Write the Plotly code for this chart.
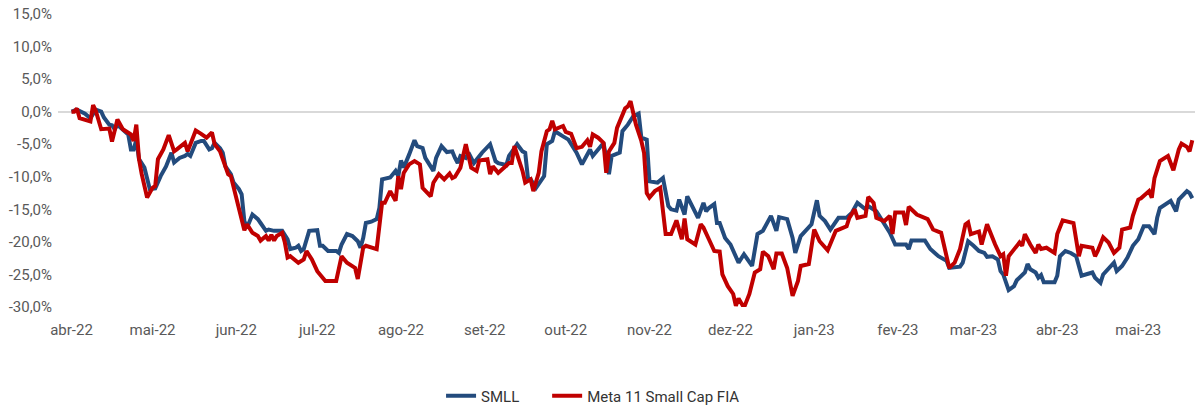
import plotly.graph_objects as go

smll_dates = [
"2022-04-01","2022-04-03","2022-04-06","2022-04-08","2022-04-10","2022-04-12","2022-04-13","2022-04-15","2022-04-16","2022-04-17",
"2022-04-18","2022-04-20","2022-04-22","2022-04-23","2022-04-24","2022-04-25","2022-04-26","2022-04-28","2022-04-29","2022-04-30",
"2022-05-02","2022-05-04","2022-05-06","2022-05-08","2022-05-09","2022-05-11","2022-05-13","2022-05-14","2022-05-15","2022-05-16",
"2022-05-17","2022-05-19","2022-05-20","2022-05-22","2022-05-23","2022-05-24","2022-05-26","2022-05-27","2022-05-28","2022-05-30",
"2022-05-31","2022-06-02","2022-06-03","2022-06-04","2022-06-05","2022-06-07","2022-06-09","2022-06-10","2022-06-12","2022-06-13",
"2022-06-15","2022-06-18","2022-06-20","2022-06-21","2022-06-23","2022-06-24","2022-06-25","2022-06-26","2022-06-28","2022-07-01",
"2022-07-02","2022-07-03","2022-07-05","2022-07-08","2022-07-09","2022-07-10","2022-07-12","2022-07-14","2022-07-16","2022-07-17",
"2022-07-18","2022-07-19","2022-07-21","2022-07-23","2022-07-24","2022-07-25","2022-07-28","2022-07-30","2022-07-31","2022-08-01",
"2022-08-02","2022-08-04","2022-08-06","2022-08-07","2022-08-09","2022-08-10","2022-08-13","2022-08-14","2022-08-16","2022-08-18",
"2022-08-20","2022-08-21","2022-08-22","2022-08-23","2022-08-25","2022-08-26","2022-08-28","2022-08-31","2022-09-03","2022-09-05",
"2022-09-06","2022-09-09","2022-09-10","2022-09-13","2022-09-15","2022-09-16","2022-09-17","2022-09-18","2022-09-20","2022-09-23",
"2022-09-24","2022-09-26","2022-09-27","2022-09-30","2022-10-02","2022-10-05","2022-10-07","2022-10-10","2022-10-11","2022-10-14",
"2022-10-15","2022-10-17","2022-10-18","2022-10-21","2022-10-22","2022-10-24","2022-10-26","2022-10-28","2022-10-29","2022-10-31",
"2022-11-01","2022-11-04","2022-11-06","2022-11-08","2022-11-09","2022-11-11","2022-11-12","2022-11-14","2022-11-15","2022-11-19",
"2022-11-21","2022-11-22","2022-11-23","2022-11-25","2022-11-26","2022-11-27","2022-11-29","2022-12-01","2022-12-04","2022-12-06",
"2022-12-09","2022-12-11","2022-12-13","2022-12-16","2022-12-18","2022-12-19","2022-12-22","2022-12-24","2022-12-25","2022-12-27",
"2022-12-31","2023-01-02","2023-01-03","2023-01-05","2023-01-07","2023-01-10","2023-01-13","2023-01-15","2023-01-17","2023-01-20",
"2023-01-21","2023-01-24","2023-01-25","2023-01-27","2023-01-29","2023-01-31","2023-02-04","2023-02-05","2023-02-06","2023-02-11",
"2023-02-13","2023-02-16","2023-02-19","2023-02-20","2023-02-24","2023-02-25","2023-02-26","2023-02-27","2023-03-01","2023-03-03",
"2023-03-05","2023-03-06","2023-03-08","2023-03-10","2023-03-11","2023-03-12","2023-03-14","2023-03-16","2023-03-17","2023-03-19",
"2023-03-20","2023-03-21","2023-03-22","2023-03-24","2023-03-25","2023-03-26","2023-03-27","2023-03-31","2023-04-01","2023-04-02",
"2023-04-04","2023-04-06","2023-04-08","2023-04-10","2023-04-12","2023-04-14","2023-04-15","2023-04-17","2023-04-18","2023-04-20",
"2023-04-22","2023-04-23","2023-04-25","2023-04-27","2023-04-29","2023-05-01","2023-05-03","2023-05-05","2023-05-07","2023-05-08",
"2023-05-09","2023-05-13","2023-05-15","2023-05-16","2023-05-19","2023-05-20","2023-05-21"]

smll_values = [
0.0, 0.3, -0.3, -1.0, 0.3, 0.0, -0.9, -2.0, -2.1, -2.7,
-2.0, -2.7, -3.5, -5.8, -5.8, -4.3, -7.3, -8.6, -10.2, -11.9,
-11.8, -9.9, -8.4, -6.3, -7.8, -7.1, -6.8, -6.5, -6.8, -5.8,
-4.8, -4.5, -4.5, -5.8, -5.6, -4.8, -5.6, -6.3, -8.4, -9.6,
-10.9, -11.9, -12.7, -16.8, -17.8, -15.8, -16.5, -17.1, -18.3, -18.1,
-18.3, -18.3, -19.6, -21.1, -20.9, -20.6, -21.4, -21.1, -18.3, -18.2,
-20.6, -20.6, -21.4, -21.4, -21.7, -20.4, -18.8, -19.1, -19.9, -20.9,
-19.4, -17.1, -16.9, -16.5, -14.8, -10.4, -10.1, -9.1, -9.9, -7.5,
-8.6, -6.6, -4.4, -5.3, -5.6, -7.1, -9.1, -7.1, -5.3, -6.2,
-6.1, -7.1, -7.9, -6.8, -7.1, -6.3, -7.9, -6.3, -5.0, -7.6,
-7.9, -8.2, -6.8, -5.0, -6.1, -6.3, -10.2, -10.4, -11.7, -9.9,
-5.0, -4.5, -3.0, -3.8, -4.3, -6.3, -8.1, -5.8, -6.8, -5.3,
-4.8, -9.6, -6.8, -6.3, -3.0, -2.0, -0.7, -0.3, -4.0, -4.3,
-10.7, -10.9, -10.2, -14.5, -15.0, -15.2, -13.5, -15.8, -13.0, -16.3,
-14.0, -15.3, -14.8, -14.2, -17.1, -17.1, -19.4, -20.4, -23.2, -21.9,
-23.7, -18.8, -18.3, -16.0, -18.3, -16.2, -16.5, -19.4, -21.7, -19.1,
-17.3, -13.6, -16.0, -16.8, -18.1, -16.3, -16.3, -15.5, -14.0, -15.0,
-14.5, -15.3, -16.0, -17.1, -18.6, -20.4, -20.4, -21.1, -19.8, -19.8,
-21.1, -22.2, -22.9, -24.0, -23.8, -23.2, -21.7, -19.9, -20.6, -21.4,
-21.7, -22.3, -22.2, -22.7, -24.5, -25.0, -27.4, -26.8, -25.9, -25.2,
-24.7, -23.4, -24.2, -24.7, -25.5, -25.1, -26.2, -26.2, -25.2, -22.2,
-21.4, -21.7, -22.2, -25.2, -25.0, -24.7, -25.5, -26.3, -25.0, -24.2,
-23.2, -24.5, -23.7, -22.4, -20.6, -19.6, -17.6, -17.6, -18.8, -16.3,
-14.8, -13.7, -15.3, -13.5, -12.2, -12.5, -13.3]

meta_dates = [
"2022-04-01","2022-04-02","2022-04-03","2022-04-04","2022-04-08","2022-04-09","2022-04-10","2022-04-12","2022-04-15","2022-04-16",
"2022-04-18","2022-04-20","2022-04-23","2022-04-24","2022-04-25","2022-04-26","2022-04-27","2022-04-29","2022-05-01","2022-05-02",
"2022-05-03","2022-05-05","2022-05-07","2022-05-09","2022-05-10","2022-05-13","2022-05-14","2022-05-15","2022-05-17","2022-05-19",
"2022-05-21","2022-05-23","2022-05-24","2022-05-26","2022-05-27","2022-05-29","2022-05-30","2022-06-01","2022-06-03","2022-06-04",
"2022-06-05","2022-06-07","2022-06-09","2022-06-10","2022-06-12","2022-06-13","2022-06-14","2022-06-15","2022-06-16","2022-06-18",
"2022-06-19","2022-06-20","2022-06-21","2022-06-24","2022-06-26","2022-06-27","2022-06-29","2022-07-01","2022-07-02","2022-07-04",
"2022-07-08","2022-07-09","2022-07-10","2022-07-12","2022-07-14","2022-07-15","2022-07-16","2022-07-18","2022-07-19","2022-07-23",
"2022-07-25","2022-07-26","2022-07-28","2022-07-30","2022-07-31","2022-08-01","2022-08-02","2022-08-04","2022-08-06","2022-08-08",
"2022-08-09","2022-08-11","2022-08-12","2022-08-13","2022-08-15","2022-08-17","2022-08-19","2022-08-20","2022-08-21","2022-08-23",
"2022-08-25","2022-08-27","2022-08-29","2022-08-30","2022-09-02","2022-09-03","2022-09-04","2022-09-06","2022-09-08","2022-09-10",
"2022-09-11","2022-09-12","2022-09-13","2022-09-15","2022-09-16","2022-09-18","2022-09-19","2022-09-21","2022-09-22","2022-09-24",
"2022-09-25","2022-09-26","2022-09-27","2022-09-29","2022-09-30","2022-10-01","2022-10-03","2022-10-05","2022-10-07","2022-10-09",
"2022-10-10","2022-10-11","2022-10-13","2022-10-15","2022-10-16","2022-10-17","2022-10-19","2022-10-20","2022-10-22","2022-10-23",
"2022-10-24","2022-10-25","2022-10-27","2022-10-29","2022-10-30","2022-10-31","2022-11-01","2022-11-03","2022-11-05","2022-11-07",
"2022-11-09","2022-11-11","2022-11-13","2022-11-14","2022-11-15","2022-11-18","2022-11-20","2022-11-21","2022-11-23","2022-11-25",
"2022-11-27","2022-11-28","2022-11-30","2022-12-02","2022-12-03","2022-12-04","2022-12-06","2022-12-08","2022-12-10","2022-12-12",
"2022-12-13","2022-12-15","2022-12-17","2022-12-18","2022-12-20","2022-12-22","2022-12-24","2022-12-26","2022-12-27","2022-12-30",
"2023-01-01","2023-01-03","2023-01-06","2023-01-09","2023-01-13","2023-01-14","2023-01-16","2023-01-17","2023-01-20","2023-01-21",
"2023-01-23","2023-01-24","2023-01-27","2023-01-29","2023-01-30","2023-01-31","2023-02-03","2023-02-04","2023-02-05","2023-02-08",
"2023-02-12","2023-02-14","2023-02-17","2023-02-18","2023-02-20","2023-02-22","2023-02-24","2023-02-26","2023-02-27","2023-02-28",
"2023-03-03","2023-03-04","2023-03-06","2023-03-09","2023-03-11","2023-03-12","2023-03-13","2023-03-14","2023-03-16","2023-03-18",
"2023-03-19","2023-03-20","2023-03-22","2023-03-24","2023-03-25","2023-03-26","2023-03-28","2023-03-31","2023-04-01","2023-04-03",
"2023-04-07","2023-04-08","2023-04-09","2023-04-10","2023-04-14","2023-04-15","2023-04-16","2023-04-18","2023-04-20","2023-04-22",
"2023-04-24","2023-04-25","2023-04-28","2023-04-29","2023-05-01","2023-05-02","2023-05-05","2023-05-06","2023-05-07","2023-05-09",
"2023-05-11","2023-05-12","2023-05-14","2023-05-16","2023-05-17","2023-05-19","2023-05-20","2023-05-21"]

meta_values = [
0.0, 0.0, 0.5, -1.0, -1.5, 1.0, 0.1, -2.7, -2.6, -4.6,
-1.2, -2.7, -3.5, -4.5, -2.0, -7.3, -9.6, -13.2, -11.7, -11.4,
-7.3, -5.8, -3.6, -6.1, -5.8, -4.8, -6.1, -5.0, -2.9, -3.4,
-4.0, -3.2, -5.0, -6.1, -7.3, -9.6, -9.9, -13.2, -16.5, -18.2,
-17.3, -18.6, -19.1, -19.8, -19.1, -19.8, -18.9, -19.8, -19.1, -18.6,
-20.1, -22.4, -22.2, -23.2, -22.7, -21.4, -22.7, -24.5, -25.0, -26.0,
-26.0, -23.7, -22.2, -23.2, -23.7, -24.0, -25.7, -20.9, -20.6, -21.1,
-14.0, -14.0, -12.2, -13.7, -9.9, -11.9, -9.4, -8.1, -7.6, -8.1,
-11.7, -12.5, -13.0, -10.9, -9.6, -10.4, -9.5, -10.2, -10.0, -8.6,
-5.0, -8.6, -9.1, -7.5, -7.3, -9.6, -8.4, -9.4, -8.6, -7.9,
-7.9, -5.3, -6.6, -9.1, -10.9, -10.4, -12.2, -9.4, -6.1, -3.0,
-2.7, -1.4, -2.7, -2.4, -2.2, -3.1, -3.4, -5.6, -5.4, -4.4,
-5.4, -3.5, -4.0, -4.8, -9.4, -6.1, -4.8, -2.5, -0.4, 0.5,
0.8, 1.6, -2.0, -4.5, -6.3, -12.5, -13.2, -12.2, -11.7, -18.8,
-18.8, -16.7, -19.6, -16.4, -19.6, -20.4, -17.3, -17.8, -19.6, -21.4,
-21.5, -25.0, -26.8, -28.0, -29.8, -28.7, -30.1, -28.0, -24.7, -24.2,
-21.5, -22.2, -24.2, -21.8, -21.8, -24.0, -28.3, -26.0, -23.7, -23.4,
-18.1, -19.9, -21.3, -18.3, -17.6, -16.3, -15.0, -16.3, -16.0, -13.1,
-14.0, -16.3, -16.8, -16.0, -18.8, -15.5, -15.5, -17.4, -14.6, -15.8,
-16.5, -18.1, -18.6, -20.4, -24.0, -23.2, -21.1, -17.3, -17.0, -18.8,
-18.4, -20.4, -17.3, -20.4, -22.2, -21.9, -25.2, -22.2, -21.1, -20.1,
-20.6, -18.8, -20.4, -21.7, -20.4, -21.1, -20.9, -21.7, -18.8, -16.7,
-17.1, -19.4, -22.2, -20.6, -20.9, -22.2, -21.4, -19.3, -20.1, -21.7,
-20.9, -18.1, -17.8, -16.0, -13.5, -13.3, -12.2, -13.2, -10.2, -7.6,
-7.0, -6.8, -9.0, -5.8, -4.9, -5.4, -6.1, -4.4]

x_tick_vals = ["2022-04-01","2022-05-01","2022-06-01","2022-07-01","2022-08-01","2022-09-01","2022-10-01",
               "2022-11-01","2022-12-01","2023-01-01","2023-02-01","2023-03-01","2023-04-01","2023-05-01"]
x_tick_text = ["abr-22","mai-22","jun-22","jul-22","ago-22","set-22","out-22",
               "nov-22","dez-22","jan-23","fev-23","mar-23","abr-23","mai-23"]
y_tick_vals = [15, 10, 5, 0, -5, -10, -15, -20, -25, -30]
y_tick_text = ["15,0%","10,0%","5,0%","0,0%","-5,0%","-10,0%","-15,0%","-20,0%","-25,0%","-30,0%"]

fig = go.Figure()
fig.add_trace(go.Scatter(x=smll_dates, y=smll_values, mode="lines", name="SMLL",
                         line=dict(color="#234B7D", width=4), legend="legend"))
fig.add_trace(go.Scatter(x=meta_dates, y=meta_values, mode="lines", name="Meta 11 Small Cap FIA",
                         line=dict(color="#C00000", width=4), legend="legend2"))

legend_font = dict(size=15, color="#333333")
fig.update_layout(
    width=1204, height=405,
    margin=dict(l=58, r=9, t=14, b=98, autoexpand=False),
    paper_bgcolor="white", plot_bgcolor="white",
    font=dict(family="Roboto, sans-serif", size=15, color="#595959"),
    showlegend=True,
    legend=dict(orientation="h", x=0.3369, xanchor="left", y=-0.304, yanchor="middle",
                font=legend_font, bgcolor="rgba(0,0,0,0)"),
    legend2=dict(orientation="h", x=0.4302, xanchor="left", y=-0.304, yanchor="middle",
                 font=legend_font, bgcolor="rgba(0,0,0,0)"),
    xaxis=dict(type="date", range=["2022-03-27", "2023-05-22"], automargin=False,
               tickvals=x_tick_vals, ticktext=x_tick_text, showgrid=False, zeroline=False,
               showline=False, ticks="outside", ticklen=9, tickcolor="rgba(0,0,0,0)",
               tickfont=dict(size=15, color="#595959")),
    yaxis=dict(range=[-30, 15], tickvals=y_tick_vals, ticktext=y_tick_text, showgrid=False,
               automargin=False, zeroline=True, zerolinecolor="#D9D9D9", zerolinewidth=2,
               showline=False, ticks="outside", ticklen=2, tickcolor="rgba(0,0,0,0)",
               tickfont=dict(size=15, color="#595959")),
)

fig.write_html("out.html", config={"displayModeBar": False},
               post_script="document.body.style.margin='0';document.body.style.padding='0';")
